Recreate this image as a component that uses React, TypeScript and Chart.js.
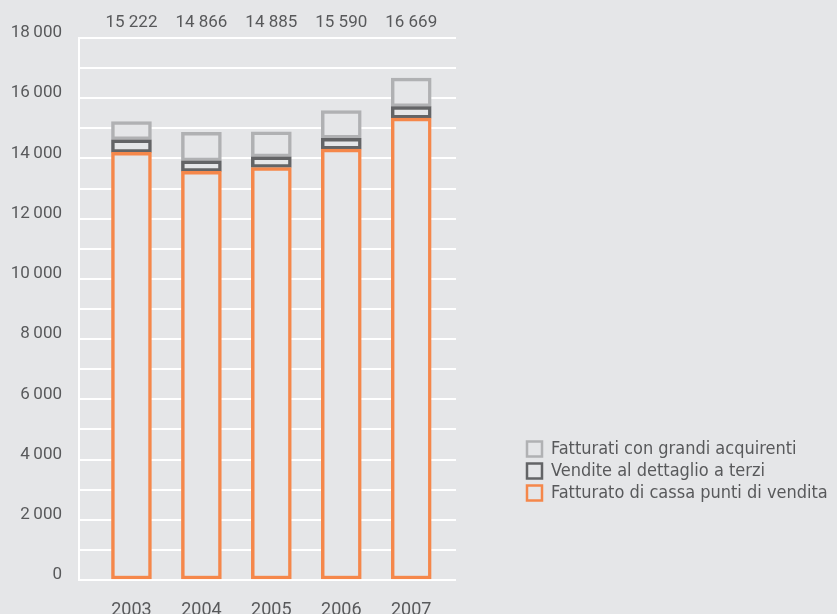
import React, { useEffect, useRef } from 'react';
import { Chart, registerables } from 'chart.js';

Chart.register(...registerables);

// ---- data ----
const years = ['2003', '2004', '2005', '2006', '2007'];
const seriesNames = [
  'Fatturato di cassa punti di vendita',
  'Vendite al dettaglio a terzi',
  'Fatturati con grandi acquirenti',
];
const cassaPuntiVendita = [14200, 13570, 13700, 14310, 15340];
const dettaglioTerzi = [420, 350, 350, 360, 380];
const grandiAcquirenti = [602, 946, 835, 920, 949];
const totals = [15222, 14866, 14885, 15590, 16669];
const yMin = 0;
const yMax = 18000;
const yGridStep = 1000;
const yLabelStep = 2000;

// ---- styles ----
const BG = '#e5e6e8';
const TEXT = '#58595b';
const ORANGE = '#f5874a';
const DARK = '#636466';
const LIGHT = '#b0b1b3';

const fmt = (v: number, sep: string) =>
  String(v).replace(/\B(?=(\d{3})+(?!\d))/g, sep);

const totalsPlugin = {
  id: 'totalsPlugin',
  afterDatasetsDraw(chart: any) {
    const { ctx, chartArea } = chart;
    const x = chart.scales.x;
    ctx.save();
    ctx.font = '17px Roboto';
    ctx.fillStyle = TEXT;
    ctx.textAlign = 'center';
    ctx.textBaseline = 'middle';
    years.forEach((yr, i) => {
      ctx.fillText(fmt(totals[i], ' '), x.getPixelForValue(Number(yr)), chartArea.top - 15);
    });
    ctx.restore();
  },
};

const legendPlacePlugin = {
  id: 'legendPlace',
  afterLayout(chart: any) {
    const lg = chart.legend;
    if (lg) {
      lg.top = 436;
      lg.left = 523;
    }
  },
};

export default function App() {
  const ref = useRef<HTMLCanvasElement | null>(null);

  useEffect(() => {
    document.body.style.margin = '0';
    document.body.style.background = BG;
    const canvas = ref.current;
    if (!canvas) return;
    const mk = (vals: number[]) => years.map((yr, i) => ({ x: Number(yr), y: vals[i] }));
    const common = {
      backgroundColor: BG,
      borderWidth: 3.5,
      borderSkipped: false as any,
      barThickness: 40,
    };
    const chart = new Chart(canvas, {
      type: 'bar',
      data: {
        datasets: [
          { label: seriesNames[0], data: mk(cassaPuntiVendita), borderColor: ORANGE, ...common },
          { label: seriesNames[1], data: mk(dettaglioTerzi), borderColor: DARK, ...common },
          { label: seriesNames[2], data: mk(grandiAcquirenti), borderColor: LIGHT, ...common },
        ],
      },
      options: {
        animation: false,
        responsive: false,
        devicePixelRatio: 1,
        layout: { padding: { top: 38, left: 0, right: 0, bottom: 0 } },
        plugins: {
          tooltip: { enabled: false },
          legend: {
            position: 'right',
            align: 'start',
            reverse: true,
            labels: {
              font: { family: '"DejaVu Sans Condensed", "Liberation Sans Narrow", sans-serif', size: 18 },
              color: TEXT,
              boxWidth: 15,
              boxHeight: 15,
              padding: 4,
              generateLabels: (c: any) =>
                Chart.defaults.plugins.legend.labels
                  .generateLabels(c)
                  .map((l: any) => ({ ...l, lineWidth: 2.5 })),
            },
          },
        },
        scales: {
          x: {
            type: 'linear',
            stacked: true,
            offset: false,
            min: 2002.25,
            max: 2007.64,
            grid: { display: false, offset: false },
            border: { display: false },
            ticks: {
              stepSize: 1,
              includeBounds: false,
              font: { family: 'Roboto', size: 18 },
              color: TEXT,
              padding: 12,
              callback: (v: any) => (Number.isInteger(v) ? String(v) : ''),
            },
            afterFit: (s: any) => {
              s.height = 34;
            },
          },
          y: {
            stacked: true,
            min: yMin,
            max: yMax,
            grid: { color: '#ffffff', lineWidth: 2, drawTicks: false },
            border: { display: true, color: '#ffffff', width: 2 },
            ticks: {
              stepSize: yGridStep,
              font: { family: 'Roboto', size: 17 },
              color: TEXT,
              padding: 17,
              labelOffset: -5,
              callback: (v: any) => (Number(v) % yLabelStep === 0 ? fmt(Number(v), '\u2009') : ''),
            },
            afterFit: (s: any) => {
              s.width = 79;
            },
          },
          y2: {
            position: 'right',
            display: true,
            grid: { display: false },
            border: { display: false },
            ticks: { display: false },
            afterFit: (s: any) => {
              const lw = s.chart.legend ? s.chart.legend.width : 0;
              s.width = Math.max(0, s.chart.width - 456 - lw);
            },
          },
        },
      } as any,
      plugins: [totalsPlugin, legendPlacePlugin],
    });
    return () => chart.destroy();
  }, []);

  return (
    <div style={{ width: 837, height: 614, background: BG }}>
      <canvas ref={ref} width={837} height={614} style={{ display: 'block' }} />
    </div>
  );
}
